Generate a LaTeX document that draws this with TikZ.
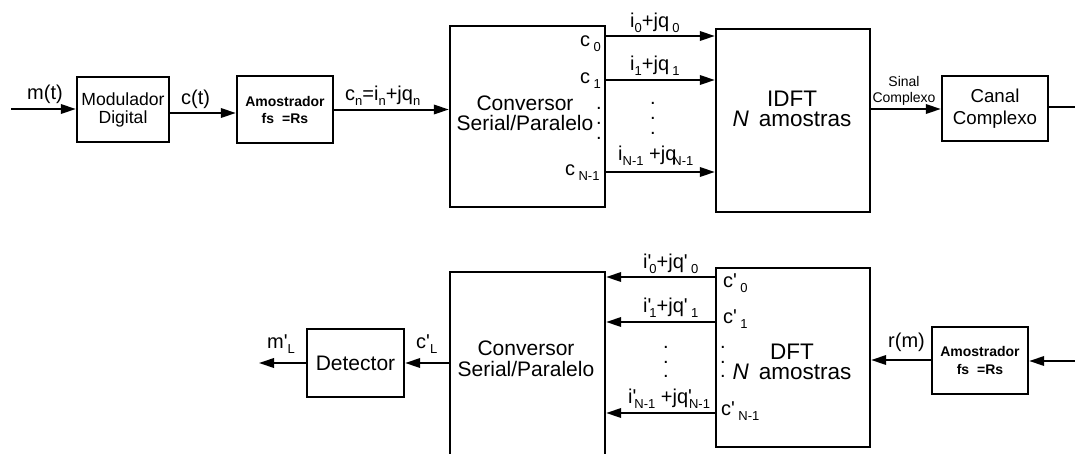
\documentclass[tikz,border=0pt]{standalone}
\usepackage{fontspec}
\setmainfont{Liberation Sans}
\usetikzlibrary{arrows.meta}
\newcommand\fsz[2]{\fontsize{#1}{#2}\selectfont}
\newcommand\sbs[1]{\raisebox{-5pt}{\fsz{13}{13}#1}}
\newcommand\ap{\textquotesingle}
\begin{document}
\begin{tikzpicture}[x=1pt,y=-1pt,
  box/.style={draw,line width=2.4pt,inner sep=0pt,align=center},
  arr/.style={line width=2pt,-{Triangle[length=15pt,width=9.5pt]}},
  wire/.style={line width=2pt},
  lbl/.style={inner sep=0pt,anchor=base west,font=\fsz{20}{20}},
  txt/.style={inner sep=0pt,align=center},
  dotcol/.style={inner sep=0pt,align=center,font=\fsz{20}{#1}}]

\useasboundingbox (0,0) rectangle (1075,453);
\clip (0,0) rectangle (1075,453);

% ---------- top row boxes ----------
\node[box,minimum width=92pt,minimum height=65pt,font=\fsz{17.6}{18}] (mod) at (123,109.5) {Modulador\\Digital};
\node[box,minimum width=96pt,minimum height=67pt,font=\fsz{14}{17}\bfseries] (ams1) at (285,109.5) {Amostrador\\fs\hspace{8pt}=Rs};
\node[box,minimum width=155pt,minimum height=181pt] (conv1) at (527.5,116.5) {};
\node[txt,font=\fsz{21}{20}] (conv1t) at (525,113.5) {Conversor\\Serial/Paralelo};
\node[box,minimum width=154pt,minimum height=183pt] (idft) at (793,120.5) {};
\node[txt,font=\fsz{22.5}{20}] (idftt) at (792,109) {IDFT\\\textit{N}\hspace{0.45em}amostras};
\node[box,minimum width=106pt,minimum height=65pt,font=\fsz{18.7}{22}] (canal) at (995,108.5) {Canal\\Complexo};
\node[txt,font=\fsz{14}{16}] (sinal) at (904,90.5) {Sinal\\Complexo};

% ---------- bottom row boxes ----------
\node[box,minimum width=97pt,minimum height=68pt,font=\fsz{21}{21}] (det) at (355.5,363) {Detector};
\node[box,minimum width=155pt,minimum height=190pt,anchor=north] (conv2) at (527.5,271) {};
\node[txt,font=\fsz{21}{21}] (conv2t) at (526,358.5) {Conversor\\Serial/Paralelo};
\node[box,minimum width=154pt,minimum height=179pt] (dft) at (793,357.5) {};
\node[txt,font=\fsz{22.5}{20}] (dftt) at (792,362) {DFT\\\textit{N}\hspace{0.45em}amostras};
\node[box,minimum width=96pt,minimum height=67pt,font=\fsz{14}{18}\bfseries] (ams2) at (980,360.5) {Amostrador\\fs\hspace{8pt}=Rs};

% ---------- top connectors ----------
\coordinate (in1) at (11,109);
\draw[arr] (in1) -- (in1 -| mod.west);
\draw[arr] ([yshift=-3.5pt]mod.east) -- ([yshift=-3.5pt]ams1.west);
\draw[arr] (ams1.east) -- (ams1.east -| conv1.west);
\foreach \y in {36,80,172} \draw[arr] (conv1.east |- 0,\y) -- (idft.west |- 0,\y);
\draw[arr] (idft.east |- 0,109) -- (canal.west |- 0,109);
\coordinate (out1) at (1080,107);
\draw[wire] (canal.east |- out1) -- (out1);

% ---------- bottom connectors ----------
\coordinate (in2) at (1080,361);
\draw[arr] (in2) -- (in2 -| ams2.east);
\draw[arr] (ams2.west |- 0,360) -- (dft.east |- 0,360);
\foreach \y in {277,322,413} \draw[arr] (dft.west |- 0,\y) -- (conv2.east |- 0,\y);
\draw[arr] (conv2.west |- 0,363) -- (det.east);
\coordinate (out2) at (259,363);
\draw[arr] (det.west) -- (out2);

% ---------- top labels ----------
\node[lbl] (lmt) at (27,99) {m(t)};
\node[lbl] (lct) at (181,104) {c(t)};
\node[lbl] (lcn) at (345,100) {c\sbs{n}=i\sbs{n}+jq\sbs{n}};
\node[lbl] (li0) at (630,27) {i\sbs{0}+jq\,\sbs{0}};
\node[lbl] (li1) at (630,70) {i\sbs{1}+jq\,\sbs{1}};
\node[lbl] (liN) at (618,160) {i\sbs{N-1} +jq\hspace{-4pt}\sbs{N-1}};
\node[lbl] (lc0) at (580,46) {c\,\sbs{0}};
\node[lbl] (lc1) at (580,83) {c\,\sbs{1}};
\node[lbl] (lcN) at (565,175) {c\,\sbs{N-1}};
\node[dotcol=15] (da) at (599,123.5) {.\\.\\.};
\node[dotcol=15] (db) at (653,118.5) {.\\.\\.};

% ---------- bottom labels ----------
\node[lbl] (lml) at (267,348) {m\ap\sbs{L}};
\node[lbl] (lcl) at (416,348) {c\ap\sbs{L}};
\node[lbl] (lp0) at (643,268) {i\ap\hspace{-2pt}\sbs{0}+jq\ap\,\sbs{0}};
\node[lbl] (lp1) at (643,312) {i\ap\hspace{-2pt}\sbs{1}+jq\ap\,\sbs{1}};
\node[lbl] (lpN) at (628,403) {i\ap\hspace{-2pt}\sbs{N-1} +jq\ap\hspace{-3pt}\sbs{N-1}};
\node[lbl] (lcp0) at (723,287) {c\ap\,\sbs{0}};
\node[lbl] (lcp1) at (723,323) {c\ap\,\sbs{1}};
\node[lbl] (lcpN) at (721,415) {c\ap\,\sbs{N-1}};
\node[lbl] (lrm) at (888,347) {r(m)};
\node[dotcol=14.5] (dc) at (666,362) {.\\.\\.};
\node[dotcol=14.5] (dd) at (723,362) {.\\.\\.};
\end{tikzpicture}
\end{document}
